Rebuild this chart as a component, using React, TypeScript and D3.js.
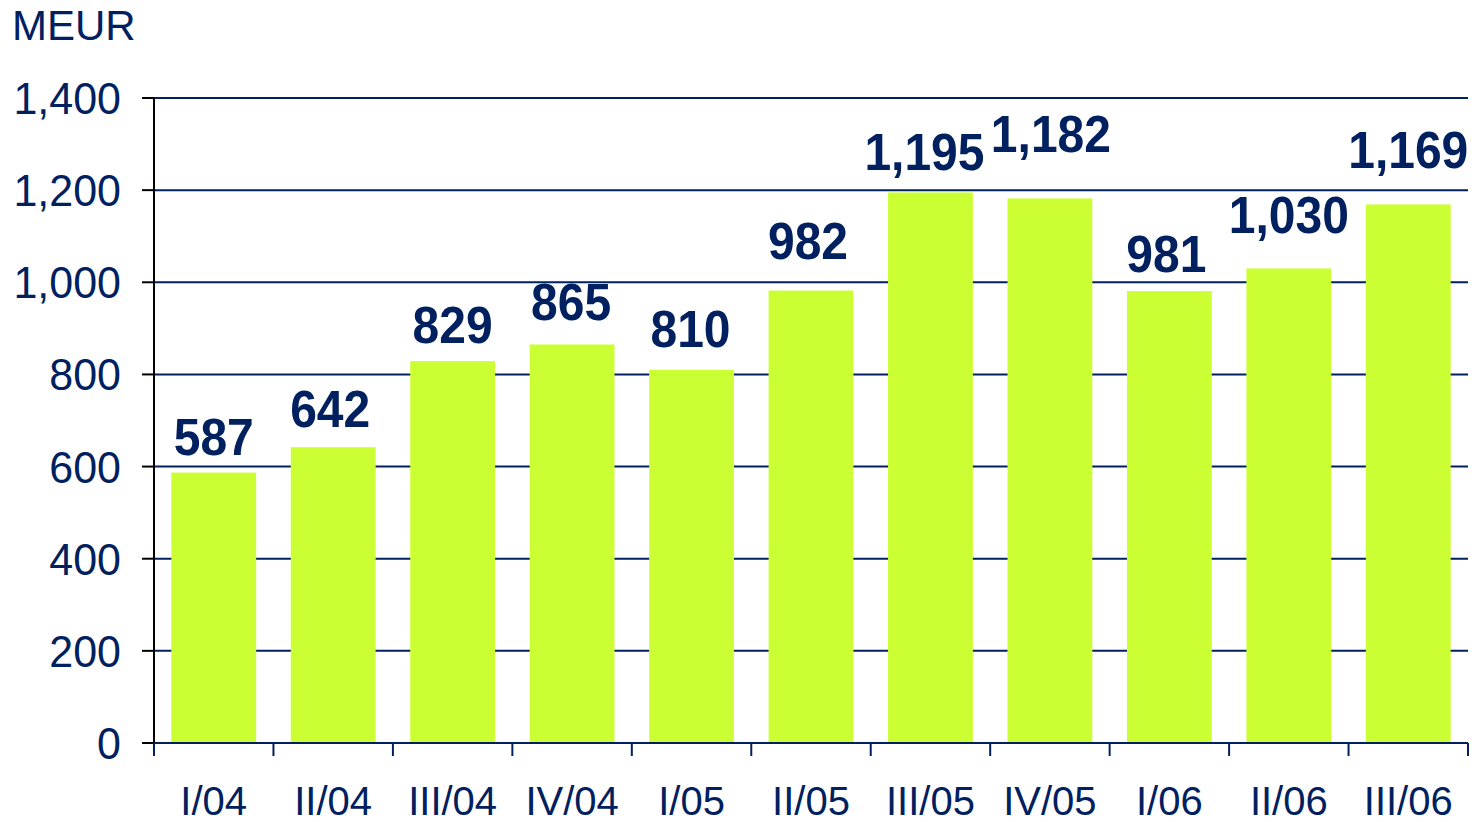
import React from "react";
import * as d3 from "d3";

const categories = ["I/04", "II/04", "III/04", "IV/04", "I/05", "II/05", "III/05", "IV/05", "I/06", "II/06", "III/06"];
const values = [587, 642, 829, 865, 810, 982, 1195, 1182, 981, 1030, 1169];
const yTicks = [0, 200, 400, 600, 800, 1000, 1200, 1400];
const unitLabel = "MEUR";

// label layout (pixels above bar top, horizontal nudge)
const labelLift = [18, 20, 18, 24, 23, 32, 22, 46, 19, 35, 36];
const labelNudge = [0, -3, 0, -1, -1, -3, -6, 1, -3, 0, 0];

const W = 1478;
const H = 822;
const left = 154;
const right = 1468;
const top = 98;
const bottom = 743;
const navy = "#002060";
const barColor = "#CCFF33";
const font = "Liberation Sans, Arial, sans-serif";

export default function App() {
  const x = d3.scaleBand<string>().domain(categories).range([left, right]).padding(0);
  const y = d3.scaleLinear().domain([0, 1400]).range([bottom, top]);
  const bw = x.bandwidth() * 0.71;
  const fmt = d3.format(",");
  const bounds = categories.map((c) => x(c) as number).concat([right]);

  return (
    <svg width={W} height={H} style={{ position: "absolute", left: 0, top: 0, background: "#fff" }}>
      <text x={12} y={40} fontFamily={font} fontSize={42} fill={navy} transform="translate(0,40) scale(1,1.03) translate(0,-40)">
        {unitLabel}
      </text>
      {yTicks.map((t) => (
        <g key={t}>
          {t > 0 && <line x1={left} x2={right} y1={y(t)} y2={y(t)} stroke={navy} strokeWidth={2} />}
          <line x1={142} x2={left} y1={y(t)} y2={y(t)} stroke="#000" strokeWidth={2} />
          <text
            x={121}
            y={y(t) + 16}
            textAnchor="end"
            fontFamily={font}
            fontSize={43}
            fill={navy}
            transform={`translate(0,${y(t) + 16}) scale(1,1.04) translate(0,${-(y(t) + 16)})`}
          >
            {fmt(t)}
          </text>
        </g>
      ))}
      {categories.map((c, i) => {
        const cx = (x(c) as number) + x.bandwidth() / 2;
        const yt = y(values[i]);
        const by = yt - labelLift[i];
        return (
          <g key={c}>
            <rect x={cx - bw / 2} y={yt} width={bw} height={bottom - yt} fill={barColor} />
            <text
              x={cx + labelNudge[i]}
              y={by}
              textAnchor="middle"
              fontFamily={font}
              fontWeight="bold"
              fontSize={48}
              fill={navy}
              transform={`translate(0,${by}) scale(1,1.07) translate(0,${-by})`}
            >
              {fmt(values[i])}
            </text>
            <text x={cx} y={815} textAnchor="middle" fontFamily={font} fontSize={40} fill={navy}>
              {c}
            </text>
          </g>
        );
      })}
      <line x1={left} x2={right} y1={bottom} y2={bottom} stroke={navy} strokeWidth={2} />
      {bounds.map((b, i) => (
        <line key={i} x1={b} x2={b} y1={bottom} y2={756} stroke={navy} strokeWidth={2} />
      ))}
      <line x1={left} x2={left} y1={top} y2={bottom} stroke="#000" strokeWidth={2} />
    </svg>
  );
}
